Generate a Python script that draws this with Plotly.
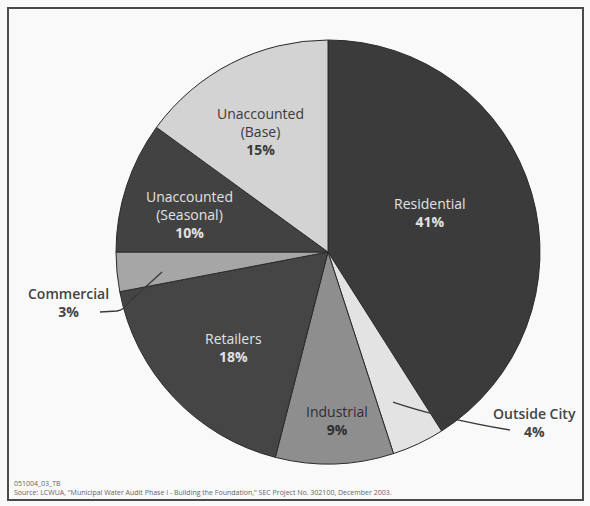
import plotly.graph_objects as go

# ---- data ----
categories = ["Residential", "Outside City", "Industrial", "Retailers",
              "Commercial", "Unaccounted (Seasonal)", "Unaccounted (Base)"]
display_names = ["Residential", "Outside City", "Industrial", "Retailers",
                 "Commercial", "Unaccounted<br>(Seasonal)", "Unaccounted<br>(Base)"]
shares = [41, 4, 9, 18, 3, 10, 15]
footer_id = "051004_03_TB"
footer_source = ('Source: LCWUA, "Municipal Water Audit Phase I - Building the Foundation," '
                 'SEC Project No. 302100, December 2003.')

# ---- styles ----
W, H = 590, 506
slice_colors = ["#3b3b3b", "#e3e3e3", "#8e8e8e", "#454545", "#a6a6a6", "#424242", "#d3d3d3"]
text_colors = ["#e2e2e2", "#444444", "#2e2e2e", "#e2e2e2", "#444444", "#e2e2e2", "#3a3a3a"]
name_weight = [400, 600, 400, 400, 600, 400, 400]
# label block centres in pixels (text placement only)
label_px = [(430, 212), (534, 422), (337, 420), (233, 347), (68, 302), (190, 214), (260, 131)]
FONT = "Open Sans, sans-serif"

def px(x, y):
    return x / W, 1 - y / H

cx, cy, r = 328, 252, 212
dom_x = [(cx - r) / W, (cx + r) / W]
dom_y = [1 - (cy + r) / H, 1 - (cy - r) / H]

fig = go.Figure(go.Pie(
    labels=categories, values=shares, sort=False, direction="clockwise", rotation=0,
    marker=dict(colors=slice_colors, line=dict(color="#2a2a2a", width=1)),
    textinfo="none", hoverinfo="label+percent", showlegend=False,
    domain=dict(x=dom_x, y=dom_y),
))

annotations = []
for name, val, col, wt, (lx, ly) in zip(display_names, shares, text_colors, name_weight, label_px):
    ax, ay = px(lx, ly)
    annotations.append(dict(
        x=ax, y=ay, xref="paper", yref="paper", showarrow=False,
        text=f"{name}<br><b>{val}%</b>", align="center",
        xanchor="center", yanchor="middle",
        font=dict(family=FONT, size=14, color=col, weight=wt),
    ))

fx, fy = px(12, 483)
annotations.append(dict(x=fx, y=fy, xref="paper", yref="paper", showarrow=False,
                        text=footer_id, xanchor="left", yanchor="middle",
                        font=dict(family=FONT, size=7, color="#666")))
fx, fy = px(12, 492)
annotations.append(dict(x=fx, y=fy, xref="paper", yref="paper", showarrow=False,
                        text=footer_source, xanchor="left", yanchor="middle",
                        font=dict(family=FONT, size=7, color="#666")))

def path(points_cmds):
    out = []
    for cmd, pts in points_cmds:
        coords = " ".join(f"{px(x, y)[0]:.4f},{px(x, y)[1]:.4f}" for x, y in pts)
        out.append(f"{cmd} {coords}")
    return " ".join(out)

shapes = [
    # frame
    dict(type="rect", xref="paper", yref="paper",
         x0=px(8, 8)[0], y0=px(8, 8)[1], x1=px(583, 500)[0], y1=px(583, 500)[1],
         line=dict(color="#4a4a4a", width=2), fillcolor="rgba(0,0,0,0)", layer="above"),
    # commercial leader
    dict(type="path", xref="paper", yref="paper",
         path=path([("M", [(100, 312)]), ("L", [(117, 311)]), ("Q", [(124, 310), (128, 303)]),
                    ("L", [(162, 272)])]),
         line=dict(color="#3a3a3a", width=1.3)),
    # outside city leader
    dict(type="path", xref="paper", yref="paper",
         path=path([("M", [(393, 402)]), ("Q", [(440, 418), (510, 430)])]),
         line=dict(color="#3a3a3a", width=1.3)),
]

fig.update_layout(
    width=W, height=H, margin=dict(l=0, r=0, t=0, b=0),
    paper_bgcolor="#f9f9f9", plot_bgcolor="#f9f9f9",
    annotations=annotations, shapes=shapes,
)

fig.write_html("out.html", config={"displayModeBar": False},
               post_script="document.body.style.margin='0';")
